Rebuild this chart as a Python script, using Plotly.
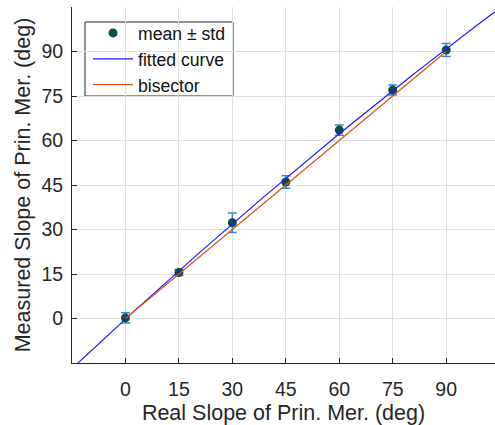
import numpy as np
import plotly.graph_objects as go

# Data
real_slope = [0, 15, 30, 45, 60, 75, 90]
measured_mean = [0.2, 15.5, 32.3, 46.0, 63.5, 77.0, 90.5]
measured_std = [1.7, 1.0, 3.3, 2.1, 1.7, 1.7, 2.2]
tick_vals = [0, 15, 30, 45, 60, 75, 90]
fit_degree = 2
fit_x_span = [-15, 105]
bisector_x = [0, 90]
bisector_y = [0, 90]

coef = np.polyfit(real_slope, measured_mean, fit_degree)
fit_x = np.linspace(fit_x_span[0], fit_x_span[1], 241)
fit_y = np.polyval(coef, fit_x)

AX = "#262626"
FONT = "Liberation Sans, Arial, sans-serif"

# plot area geometry (px) used to place legend box
L, R, T, B = 72, 495, 7, 363
W, H = R - L, B - T

def px_x(p):
    return (p - L) / W

def px_y(p):
    return (B - p) / H

fig = go.Figure()
fig.add_trace(go.Scatter(
    x=real_slope, y=measured_mean, mode="markers", name="mean ± std",
    marker=dict(color="#0b4d4a", size=9),
    error_y=dict(type="data", array=measured_std, visible=True,
                 color="#2a8fd2", thickness=1.5, width=4.5),
))
fig.add_trace(go.Scatter(
    x=fit_x, y=fit_y, mode="lines", name="fitted curve",
    line=dict(color="#1a1aff", width=1.2),
))
fig.add_trace(go.Scatter(
    x=bisector_x, y=bisector_y, mode="lines", name="bisector",
    line=dict(color="#D95319", width=1.2),
))

fig.add_shape(
    type="rect", xref="paper", yref="paper",
    x0=px_x(85), x1=px_x(233), y0=px_y(96), y1=px_y(22),
    fillcolor="white", line=dict(color=AX, width=1), layer="between",
)

fig.update_layout(
    width=495, height=425,
    margin=dict(l=L, r=0, t=T, b=425 - B),
    paper_bgcolor="white", plot_bgcolor="white",
    font=dict(family=FONT, color=AX),
    showlegend=True,
    legend=dict(
        x=px_x(88), y=px_y(15), xanchor="left", yanchor="top",
        bgcolor="rgba(0,0,0,0)", borderwidth=0,
        font=dict(size=17.6, color="#111111", family=FONT),
        tracegroupgap=0, itemwidth=40,
    ),
)
fig.update_xaxes(
    range=[-15, 103.7], tickvals=tick_vals, ticks="inside", ticklen=5,
    tickcolor=AX, showline=True, linecolor=AX, linewidth=1,
    showgrid=True, gridcolor="#e0e0e0", gridwidth=1, zeroline=False,
    tickfont=dict(size=19.5, color=AX), ticklabelstandoff=9,
    title=dict(text="Real Slope of Prin. Mer. (deg)",
               font=dict(size=21.5, color=AX), standoff=5),
)
fig.update_yaxes(
    range=[-15, 105], tickvals=tick_vals, ticks="inside", ticklen=5,
    tickcolor=AX, showline=True, linecolor=AX, linewidth=1,
    showgrid=True, gridcolor="#e0e0e0", gridwidth=1, zeroline=False,
    tickfont=dict(size=19.5, color=AX), ticklabelstandoff=4,
    title=dict(text="Measured Slope of Prin. Mer. (deg)",
               font=dict(size=21.5, color=AX), standoff=4),
)

fig.write_html("out.html")
